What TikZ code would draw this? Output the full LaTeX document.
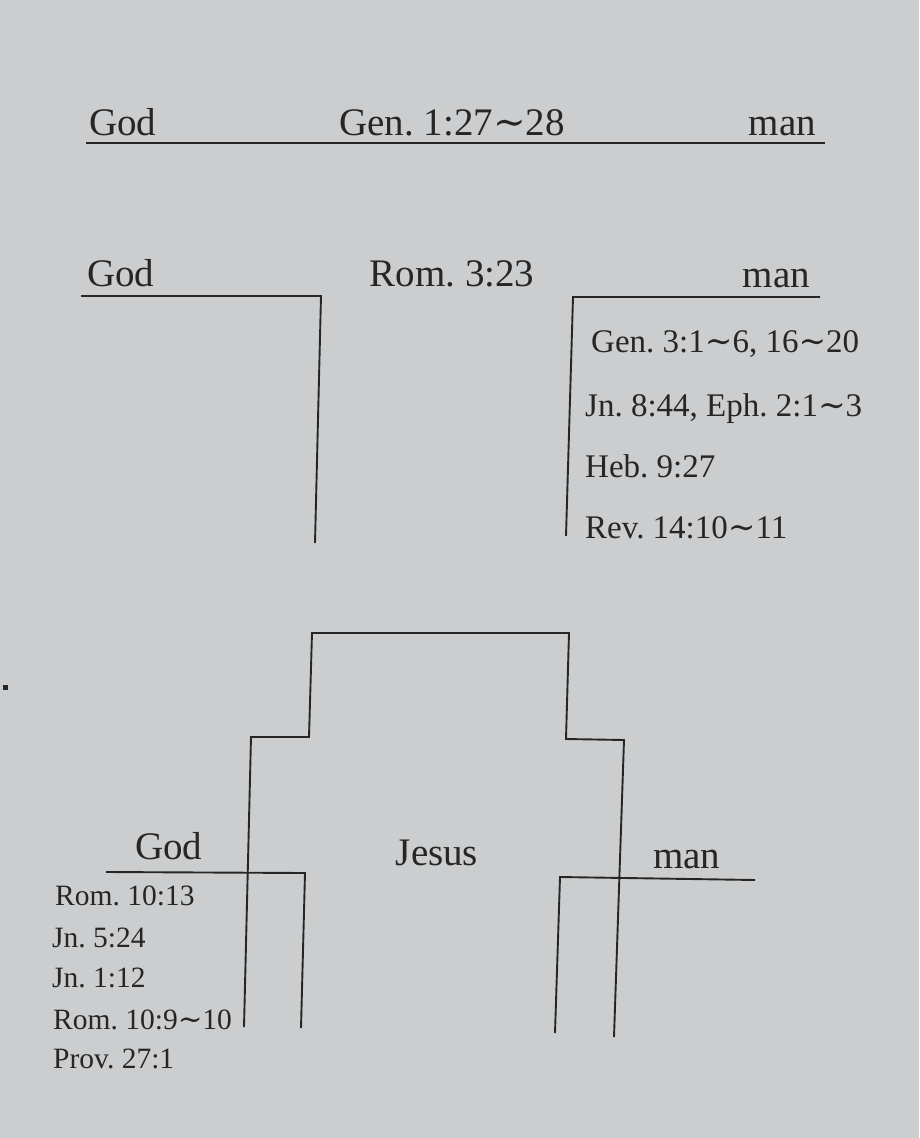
\documentclass[tikz,border=0pt]{standalone}
\usepackage{fontspec}
\setmainfont{Liberation Serif}
\newfontfamily\tildefont{DejaVu Serif}
\definecolor{paper}{RGB}{203,205,207}
\definecolor{ink}{RGB}{38,38,38}
\newcommand{\tld}{{\tildefont ∼}}
\frenchspacing
\begin{document}
\begin{tikzpicture}[x=1pt,y=-1pt,
  hdr/.style={inner sep=0pt,text=ink,font=\fontsize{39}{42}\selectfont},
  refr/.style={inner sep=0pt,text=ink,font=\fontsize{33}{37}\selectfont,anchor=base west},
  refl/.style={inner sep=0pt,text=ink,font=\fontsize{29.5}{33}\selectfont,anchor=base west},
  rule/.style={draw=ink,line width=1.9pt,line cap=butt,line join=miter}]
\fill[paper] (0,0) rectangle (919,1138);
\useasboundingbox (0,0) rectangle (919,1138);
% ---------- row 1 ----------
\node[hdr,anchor=base west] (god1) at (89,135) {God};
\node[hdr,anchor=base] (gen1) at (452,135) {Gen. 1:27\tld 28};
\node[hdr,anchor=base east] (man1) at (816,135) {man};
\coordinate (l1a) at (86,143);
\coordinate (l1b) at (825,143);
\draw[rule] (l1a) -- (l1b);
% ---------- row 2 ----------
\node[hdr,anchor=base west] (god2) at (87,286) {God};
\node[hdr,anchor=base] (rom2) at (452,286) {Rom. 3:23};
\node[hdr,anchor=base east] (man2) at (810,287) {man};
\coordinate (g2a) at (81,296);
\coordinate (g2b) at (321,296);
\coordinate (g2c) at (315,543);
\draw[rule] (g2a) -- (g2b) -- (g2c);
\coordinate (m2a) at (820,297);
\coordinate (m2b) at (573,297);
\coordinate (m2c) at (566,536);
\draw[rule] (m2a) -- (m2b) -- (m2c);
\node[refr] (r1) at (591,352) {Gen. 3:1\tld 6, 16\tld 20};
\node[refr] (r2) at (585,416) {Jn. 8:44, Eph. 2:1\tld 3};
\node[refr] (r3) at (585,477) {Heb. 9:27};
\node[refr] (r4) at (585,538) {Rev. 14:10\tld 11};
% ---------- row 3 ----------
\fill[ink] (3,685) rectangle (8,690);
\coordinate (j1) at (244,1027);
\coordinate (j2) at (251,737);
\coordinate (j3) at (309,737);
\coordinate (j4) at (312,633);
\coordinate (j5) at (569,633);
\coordinate (j6) at (566,739);
\coordinate (j7) at (624,740);
\coordinate (j8) at (614,1037);
\draw[rule] (j1) -- (j2) -- (j3) -- (j4) -- (j5) -- (j6) -- (j7) -- (j8);
\node[hdr,anchor=base west] (god3) at (135,859) {God};
\node[hdr,anchor=base] (jesus) at (437,865) {Jesus};
\node[hdr,anchor=base west] (man3) at (653,868) {man};
\coordinate (g3a) at (106,872);
\coordinate (g3b) at (305,873);
\coordinate (g3c) at (301,1028);
\draw[rule] (g3a) -- (g3b) -- (g3c);
\coordinate (m3a) at (755,880);
\coordinate (m3b) at (560,877);
\coordinate (m3c) at (555,1033);
\draw[rule] (m3a) -- (m3b) -- (m3c);
\node[refl] (s1) at (55,905) {Rom. 10:13};
\node[refl] (s2) at (52,947) {Jn. 5:24};
\node[refl] (s3) at (52,987) {Jn. 1:12};
\node[refl] (s4) at (53,1029) {Rom. 10:9\tld 10};
\node[refl] (s5) at (53,1068) {Prov. 27:1};
\end{tikzpicture}
\end{document}
